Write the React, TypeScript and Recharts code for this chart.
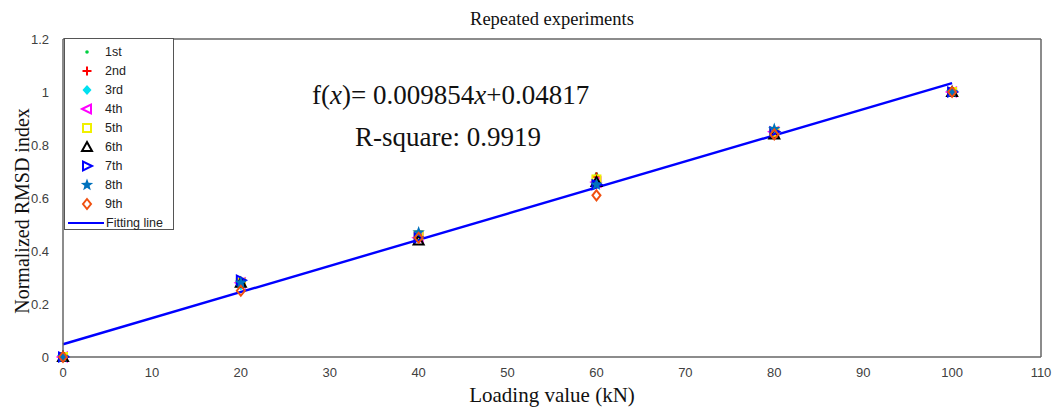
import {
  ComposedChart,
  Scatter,
  Line,
  XAxis,
  YAxis,
  Legend,
} from "recharts";

const loads = [0, 20, 40, 60, 80, 100];
const xTicks = [0, 10, 20, 30, 40, 50, 60, 70, 80, 90, 100, 110];
const yTicks = [0, 0.2, 0.4, 0.6, 0.8, 1, 1.2];

const run1 = [0, 0.28, 0.46, 0.69, 0.85, 1.0];
const run2 = [0, 0.28, 0.45, 0.68, 0.84, 1.0];
const run3 = [0, 0.27, 0.46, 0.66, 0.85, 1.0];
const run4 = [0, 0.28, 0.45, 0.66, 0.85, 1.0];
const run5 = [0, 0.28, 0.46, 0.67, 0.85, 1.0];
const run6 = [0, 0.28, 0.44, 0.66, 0.84, 1.0];
const run7 = [0, 0.29, 0.45, 0.65, 0.85, 1.0];
const run8 = [0, 0.28, 0.47, 0.65, 0.86, 1.0];
const run9 = [0, 0.25, 0.45, 0.61, 0.84, 1.0];

const slope = 0.009854;
const intercept = 0.04817;
const fitX = [0, 100];

type Kind =
  | "dot"
  | "plus"
  | "diamondFill"
  | "triLeft"
  | "square"
  | "triUp"
  | "triRight"
  | "star"
  | "diamond";

const series: { name: string; values: number[]; kind: Kind; color: string }[] = [
  { name: "1st", values: run1, kind: "dot", color: "#00d040" },
  { name: "2nd", values: run2, kind: "plus", color: "#ff0000" },
  { name: "3rd", values: run3, kind: "diamondFill", color: "#00e0f0" },
  { name: "4th", values: run4, kind: "triLeft", color: "#ff00ff" },
  { name: "5th", values: run5, kind: "square", color: "#f0f000" },
  { name: "6th", values: run6, kind: "triUp", color: "#000000" },
  { name: "7th", values: run7, kind: "triRight", color: "#0000ff" },
  { name: "8th", values: run8, kind: "star", color: "#0072bd" },
  { name: "9th", values: run9, kind: "diamond", color: "#f05010" },
];

const fitData = fitX.map((x) => ({ x, y: slope * x + intercept }));

function Marker({ kind, color, cx, cy }: { kind: Kind; color: string; cx: number; cy: number }) {
  const open = { fill: "none", stroke: color, strokeWidth: 2 };
  switch (kind) {
    case "dot":
      return <circle cx={cx} cy={cy} r={1.8} fill={color} />;
    case "plus":
      return (
        <g stroke={color} strokeWidth={2}>
          <line x1={cx - 4.5} y1={cy} x2={cx + 4.5} y2={cy} />
          <line x1={cx} y1={cy - 4.5} x2={cx} y2={cy + 4.5} />
        </g>
      );
    case "diamondFill":
      return <polygon points={`${cx},${cy - 5} ${cx + 4.5},${cy} ${cx},${cy + 5} ${cx - 4.5},${cy}`} fill={color} />;
    case "diamond":
      return <polygon points={`${cx},${cy - 5} ${cx + 4},${cy} ${cx},${cy + 5} ${cx - 4},${cy}`} {...open} />;
    case "triLeft":
      return <polygon points={`${cx - 5},${cy} ${cx + 4},${cy - 4.5} ${cx + 4},${cy + 4.5}`} {...open} />;
    case "triRight":
      return <polygon points={`${cx + 5},${cy} ${cx - 4},${cy - 4.5} ${cx - 4},${cy + 4.5}`} {...open} />;
    case "triUp":
      return <polygon points={`${cx},${cy - 5} ${cx + 5},${cy + 4} ${cx - 5},${cy + 4}`} {...open} />;
    case "square":
      return <rect x={cx - 4} y={cy - 4} width={8} height={8} {...open} />;
    case "star": {
      const pts: string[] = [];
      for (let i = 0; i < 10; i++) {
        const r = i % 2 === 0 ? 6.5 : 2.7;
        const a = -Math.PI / 2 + (i * Math.PI) / 5;
        pts.push(`${cx + r * Math.cos(a)},${cy + r * Math.sin(a)}`);
      }
      return <polygon points={pts.join(" ")} fill={color} />;
    }
  }
  return null;
}

const renderLegend = () => (
  <div
    style={{
      width: 110,
      height: 192,
      border: "1px solid #555",
      background: "#fff",
      fontFamily: "'Liberation Sans', Arial, sans-serif",
      fontSize: 12.5,
      color: "#222",
      boxSizing: "border-box",
      position: "relative",
    }}
  >
    {series.map((s, i) => (
      <div key={s.name} style={{ position: "absolute", top: 5 + i * 19, left: 0, height: 16, display: "flex", alignItems: "center" }}>
        <svg width={40} height={16}>
          <Marker kind={s.kind} color={s.color} cx={22} cy={8} />
        </svg>
        <span>{s.name}</span>
      </div>
    ))}
    <div style={{ position: "absolute", top: 176, left: 0, height: 16, display: "flex", alignItems: "center" }}>
      <svg width={41} height={16}>
        <line x1={3} y1={8} x2={39} y2={8} stroke="#0000ff" strokeWidth={2} />
      </svg>
      <span>Fitting line</span>
    </div>
  </div>
);

const axisLine = { stroke: "#666", strokeWidth: 1.5 };
const tickStyle = { fontSize: 13, fill: "#404040", fontFamily: "'Liberation Sans', Arial, sans-serif" };
const serif = "'Liberation Serif', 'Times New Roman', serif";
const noShape = () => <g />;

export default function App() {
  return (
    <div style={{ position: "absolute", left: 0, top: 0, width: 1053, height: 407, background: "#fff" }}>
      <div
        style={{
          position: "absolute",
          left: 0,
          width: 1104,
          top: 9,
          textAlign: "center",
          fontFamily: serif,
          fontSize: 18.5,
          color: "#111",
        }}
      >
        Repeated experiments
      </div>
      <div style={{ position: "absolute", left: 312, top: 80, fontFamily: serif, fontSize: 27, color: "#111", whiteSpace: "nowrap" }}>
        f(<i>x</i>)= 0.009854<i>x</i>+0.04817
      </div>
      <div style={{ position: "absolute", left: 355, top: 122, fontFamily: serif, fontSize: 27, color: "#111", whiteSpace: "nowrap" }}>
        R-square: 0.9919
      </div>
      <ComposedChart
        width={1053}
        height={407}
        margin={{ top: 39, right: 12, bottom: 0, left: 0 }}
        style={{ position: "absolute", left: 0, top: 0 }}
      >
        {/* tick-only mirrored axes give the MATLAB-style inward ticks and the box */}
        <XAxis
          xAxisId="bt"
          dataKey="x"
          orientation="bottom"
          mirror
          type="number"
          domain={[0, 110]}
          ticks={xTicks}
          height={1}
          axisLine={false}
          tickLine={axisLine}
          tickSize={5}
          tick={false}
        />
        <XAxis
          xAxisId="t"
          dataKey="x"
          orientation="top"
          mirror
          type="number"
          domain={[0, 110]}
          ticks={xTicks}
          height={1}
          axisLine={axisLine}
          tickLine={axisLine}
          tickSize={5}
          tick={false}
        />
        <YAxis
          yAxisId="lt"
          dataKey="y"
          orientation="left"
          mirror
          type="number"
          domain={[0, 1.2]}
          ticks={yTicks}
          width={1}
          axisLine={false}
          tickLine={axisLine}
          tickSize={5}
          tick={false}
        />
        <YAxis
          yAxisId="r"
          dataKey="y"
          orientation="right"
          mirror
          type="number"
          domain={[0, 1.2]}
          ticks={yTicks}
          width={1}
          axisLine={axisLine}
          tickLine={axisLine}
          tickSize={5}
          tick={false}
        />
        <XAxis
          xAxisId="b"
          dataKey="x"
          type="number"
          domain={[0, 110]}
          ticks={xTicks}
          height={50}
          axisLine={axisLine}
          tickLine={false}
          tickSize={0}
          tickMargin={11}
          tick={tickStyle}
          label={{ value: "Loading value (kN)", position: "insideBottom", offset: 5, style: { fontFamily: serif, fontSize: 21, fill: "#111" } }}
        />
        <YAxis
          yAxisId="l"
          dataKey="y"
          type="number"
          domain={[0, 1.2]}
          ticks={yTicks}
          width={63}
          axisLine={axisLine}
          tickLine={false}
          tickSize={0}
          tickMargin={14}
          tick={tickStyle}
          label={{ value: "Normalized RMSD index", angle: -90, position: "insideLeft", offset: 22, dy: 13, style: { fontFamily: serif, fontSize: 20, fill: "#111", textAnchor: "middle" } }}
        />
        <Legend
          content={renderLegend}
          layout="vertical"
          align="center"
          verticalAlign="middle"
          wrapperStyle={{ position: "absolute", left: 64, top: 38, width: 110, height: 192 }}
        />
        <Scatter xAxisId="bt" yAxisId="lt" data={fitData} shape={noShape} legendType="none" isAnimationActive={false} />
        <Scatter xAxisId="t" yAxisId="r" data={fitData} shape={noShape} legendType="none" isAnimationActive={false} />
        {series.map((s) => (
          <Scatter
            key={s.name}
            name={s.name}
            xAxisId="b"
            yAxisId="l"
            data={loads.map((x, i) => ({ x, y: s.values[i] }))}
            isAnimationActive={false}
            shape={(p: any) => <Marker kind={s.kind} color={s.color} cx={p.cx} cy={p.cy} />}
          />
        ))}
        <Line
          xAxisId="b"
          yAxisId="l"
          data={fitData}
          dataKey="y"
          type="linear"
          stroke="#0000ff"
          strokeWidth={2.4}
          dot={false}
          activeDot={false}
          isAnimationActive={false}
          name="Fitting line"
        />
      </ComposedChart>
    </div>
  );
}
